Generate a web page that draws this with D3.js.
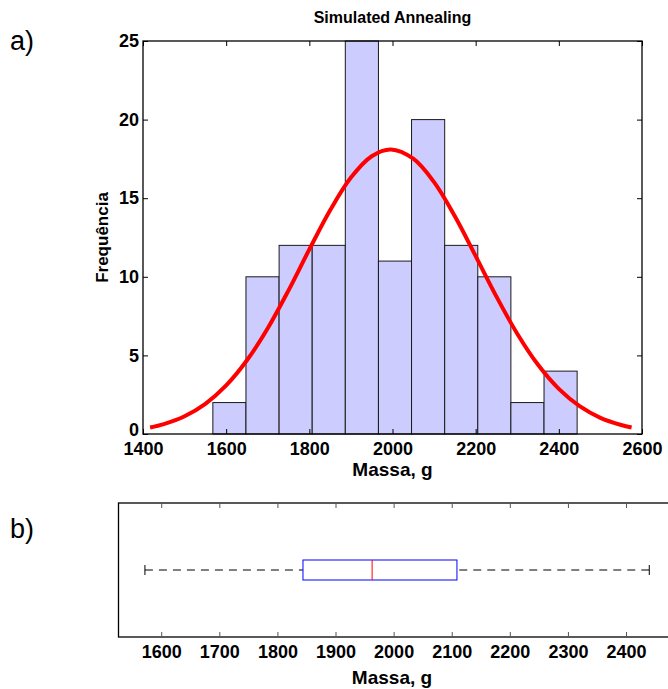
<!DOCTYPE html>
<html><head><meta charset="utf-8">
<script src="https://cdn.jsdelivr.net/npm/d3@7"></script>
<style>
body{margin:0;background:#fff;}
text{font-family:"Liberation Sans",Arial,sans-serif;}
</style></head>
<body><svg id="c" width="668" height="689"></svg>
<script>
// Histogram bins (edges, g) and counts
const binEdges = [1568, 1647.6, 1727.3, 1806.9, 1886.5, 1966.2, 2045.8, 2125.5, 2205.1, 2284.7, 2364.4, 2444];
const binCounts = [2, 10, 12, 12, 25, 11, 20, 12, 10, 2, 4];
// Fitted normal curve (mass, frequency)
const curveX = [1417, 1450, 1500, 1550, 1600, 1650, 1700, 1750, 1800, 1850, 1900, 1950, 1996, 2050, 2100, 2150, 2200, 2250, 2300, 2350, 2400, 2450, 2500, 2550, 2575];
const curveY = [0.41, 0.63, 1.13, 1.92, 3.09, 4.69, 6.73, 9.14, 11.74, 14.23, 16.31, 17.67, 18.1, 17.51, 16.02, 13.85, 11.32, 8.74, 6.38, 4.40, 2.87, 1.77, 1.03, 0.57, 0.41];
// Box plot summary: [lower whisker, Q1, median, Q3, upper whisker]
const boxStats = [1572, 1844, 1963, 2109, 2440];
// Tick labels
const histXTicks = [1400, 1600, 1800, 2000, 2200, 2400, 2600];
const histYTicks = [0, 5, 10, 15, 20, 25];
const boxXTicks = [1600, 1700, 1800, 1900, 2000, 2100, 2200, 2300, 2400];

const svg = d3.select("#c");
const F = '"Liberation Sans",Arial,sans-serif';
const fmt = d3.format("d");

// ---------- Panel a ----------
const A = {l:143, r:642, t:41, b:434};
const xA = d3.scaleLinear().domain([1400, 2600]).range([A.l, A.r]);
const yA = d3.scaleLinear().domain([0, 25]).range([A.b, A.t]);

const bars = binCounts.map((c,i)=>({x0:binEdges[i], x1:binEdges[i+1], c}));
svg.append("g").selectAll("rect").data(bars).join("rect")
  .attr("x", d=>xA(d.x0)).attr("y", d=>yA(d.c))
  .attr("width", d=>xA(d.x1)-xA(d.x0)).attr("height", d=>yA(0)-yA(d.c))
  .attr("fill", "#ccccff").attr("stroke", "#1a1a1a").attr("stroke-width", 1);

const pts = curveX.map((x,i)=>[x, curveY[i]]);
svg.append("path").datum(pts)
  .attr("d", d3.line().x(d=>xA(d[0])).y(d=>yA(d[1])).curve(d3.curveCatmullRom))
  .attr("fill","none").attr("stroke","#ff0000").attr("stroke-width",4);

// frame
svg.append("rect").attr("x",A.l).attr("y",A.t).attr("width",A.r-A.l).attr("height",A.b-A.t)
  .attr("fill","none").attr("stroke","#000").attr("stroke-width",1.3);

// axes with inward ticks
const axB = svg.append("g").attr("transform",`translate(0,${A.b})`)
  .call(d3.axisBottom(xA).tickValues(histXTicks).tickFormat(fmt).tickSize(-5).tickPadding(10));
const axT = svg.append("g").attr("transform",`translate(0,${A.t})`)
  .call(d3.axisTop(xA).tickValues(histXTicks).tickSize(-5).tickFormat(""));
const axL = svg.append("g").attr("transform",`translate(${A.l},0)`)
  .call(d3.axisLeft(yA).tickValues(histYTicks).tickFormat(fmt).tickSize(-5).tickPadding(4));
const axR = svg.append("g").attr("transform",`translate(${A.r},0)`)
  .call(d3.axisRight(yA).tickValues(histYTicks).tickSize(-5).tickFormat(""));
[axB,axT,axL,axR].forEach(g=>{
  g.select(".domain").remove();
  g.selectAll("line").attr("stroke","#000");
  g.selectAll("text").attr("font-family",F).attr("font-size",18).attr("font-weight","bold").attr("fill","#000");
});
axB.selectAll("text").attr("dy","0.62em");
axL.selectAll("text").attr("dy","0.32em");
axL.selectAll(".tick").filter(d=>d===0).select("text").attr("dy","0.1em");

svg.append("text").attr("x",(A.l+A.r)/2).attr("y",A.t-18).attr("text-anchor","middle")
  .attr("font-size",16).attr("font-weight","bold").text("Simulated Annealing");
svg.append("text").attr("x",(A.l+A.r)/2).attr("y",476).attr("text-anchor","middle")
  .attr("font-size",19).attr("font-weight","bold").text("Massa, g");
svg.append("text").attr("transform",`translate(108,${(A.t+A.b)/2}) rotate(-90)`).attr("text-anchor","middle")
  .attr("font-size",17).attr("font-weight","bold").text("Frequência");
svg.append("text").attr("x",10).attr("y",50).attr("font-size",27).text("a)");

// ---------- Panel b ----------
const B = {l:118.5, r:676, t:503, b:637};
const xB = d3.scaleLinear().domain([1526.5, 2486]).range([B.l, B.r]);
const cy = (B.t+B.b)/2;

svg.append("rect").attr("x",B.l).attr("y",B.t).attr("width",B.r-B.l).attr("height",B.b-B.t)
  .attr("fill","none").attr("stroke","#000").attr("stroke-width",1.3);
const bB = svg.append("g").attr("transform",`translate(0,${B.b})`)
  .call(d3.axisBottom(xB).tickValues(boxXTicks).tickFormat(fmt).tickSize(-5).tickPadding(10));
const bT = svg.append("g").attr("transform",`translate(0,${B.t})`)
  .call(d3.axisTop(xB).tickValues(boxXTicks).tickSize(-5).tickFormat(""));
[bB,bT].forEach(g=>{
  g.select(".domain").remove();
  g.selectAll("line").attr("stroke","#555");
  g.selectAll("text").attr("font-family",F).attr("font-size",18).attr("font-weight","bold").attr("fill","#000");
});
bB.selectAll("text").attr("dy","0.62em");

const [wLo,q1,med,q3,wHi] = boxStats;
const bx = svg.append("g");
bx.append("line").attr("x1",xB(wLo)).attr("x2",xB(q1)).attr("y1",cy).attr("y2",cy)
  .attr("stroke","#000").attr("stroke-dasharray","8,6");
bx.append("line").attr("x1",xB(wHi)).attr("x2",xB(q3)).attr("y1",cy).attr("y2",cy)
  .attr("stroke","#000").attr("stroke-dasharray","8,6");
[wLo,wHi].forEach(v=>bx.append("line").attr("x1",xB(v)).attr("x2",xB(v)).attr("y1",cy-5).attr("y2",cy+5).attr("stroke","#000"));
bx.append("rect").attr("x",xB(q1)).attr("y",cy-10).attr("width",xB(q3)-xB(q1)).attr("height",20)
  .attr("fill","#fff").attr("stroke","#0000ff").attr("stroke-width",1);
bx.append("line").attr("x1",xB(med)).attr("x2",xB(med)).attr("y1",cy-10).attr("y2",cy+10).attr("stroke","#ff0000");

svg.append("text").attr("x",392).attr("y",684).attr("text-anchor","middle")
  .attr("font-size",19).attr("font-weight","bold").text("Massa, g");
svg.append("text").attr("x",10).attr("y",538).attr("font-size",27).text("b)");
</script></body></html>
